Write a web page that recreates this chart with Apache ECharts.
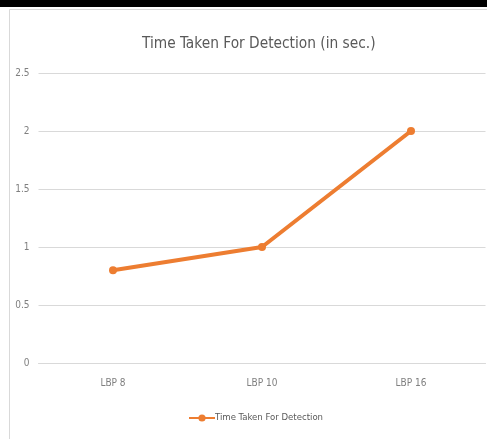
<!DOCTYPE html>
<html>
<head>
<meta charset="utf-8">
<script src="https://cdn.jsdelivr.net/npm/echarts@6/dist/echarts.min.js"></script>
<style>
  html, body { margin: 0; padding: 0; background: #fff; }
  #chart { width: 487px; height: 439px; }
</style>
</head>
<body>
<div id="chart"></div>
<script>
const categories = ['LBP 8', 'LBP 10', 'LBP 16'];
const detectionTime = [0.8, 1.0, 2.0];
const seriesName = 'Time Taken For Detection';
const titleText = 'Time Taken For Detection (in sec.)';

const font = '"DejaVu Sans Condensed", "Liberation Sans Narrow", sans-serif';
const chart = echarts.init(document.getElementById('chart'));
chart.setOption({
  animation: false,
  backgroundColor: '#ffffff',
  title: {
    text: titleText,
    left: 137,
    top: 32,
    textStyle: { fontFamily: font, fontSize: 15.3, fontWeight: 'normal', color: '#595959' }
  },
  legend: {
    top: 408,
    left: 183,
    itemWidth: 26,
    itemHeight: 9,
    itemGap: 0,
    data: [seriesName],
    textStyle: { fontFamily: font, fontSize: 9.5, color: '#595959', padding: [0, 0, 0, -5] }
  },
  grid: { left: 38.5, right: 1.5, top: 73, bottom: 76 },
  xAxis: {
    type: 'category',
    data: categories,
    boundaryGap: true,
    axisLine: { lineStyle: { color: '#d9d9d9', width: 1 } },
    axisTick: { show: false },
    axisLabel: { fontFamily: font, fontSize: 10, color: '#7f7f7f', margin: 15 }
  },
  yAxis: {
    type: 'value',
    min: 0,
    max: 2.5,
    interval: 0.5,
    axisLine: { show: false },
    axisTick: { show: false },
    splitLine: { lineStyle: { color: '#d9d9d9', width: 1 } },
    axisLabel: {
      fontFamily: font, fontSize: 10, color: '#7f7f7f', margin: 9,
      formatter: v => String(v)
    }
  },
  series: [{
    name: seriesName,
    type: 'line',
    data: detectionTime,
    symbol: 'circle',
    symbolSize: 8,
    lineStyle: { color: '#ED7D31', width: 4 },
    itemStyle: { color: '#ED7D31' }
  }],
  graphic: [
    { type: 'rect', shape: { x: 0, y: 0, width: 487, height: 7 }, style: { fill: '#000' }, z: 100 },
    { type: 'line', shape: { x1: 9.5, y1: 9.5, x2: 9.5, y2: 439 }, style: { stroke: '#d9d9d9', lineWidth: 1 }, z: 100 },
    { type: 'line', shape: { x1: 9.5, y1: 9.5, x2: 487, y2: 9.5 }, style: { stroke: '#d9d9d9', lineWidth: 1 }, z: 100 }
  ]
});
</script>
</body>
</html>
